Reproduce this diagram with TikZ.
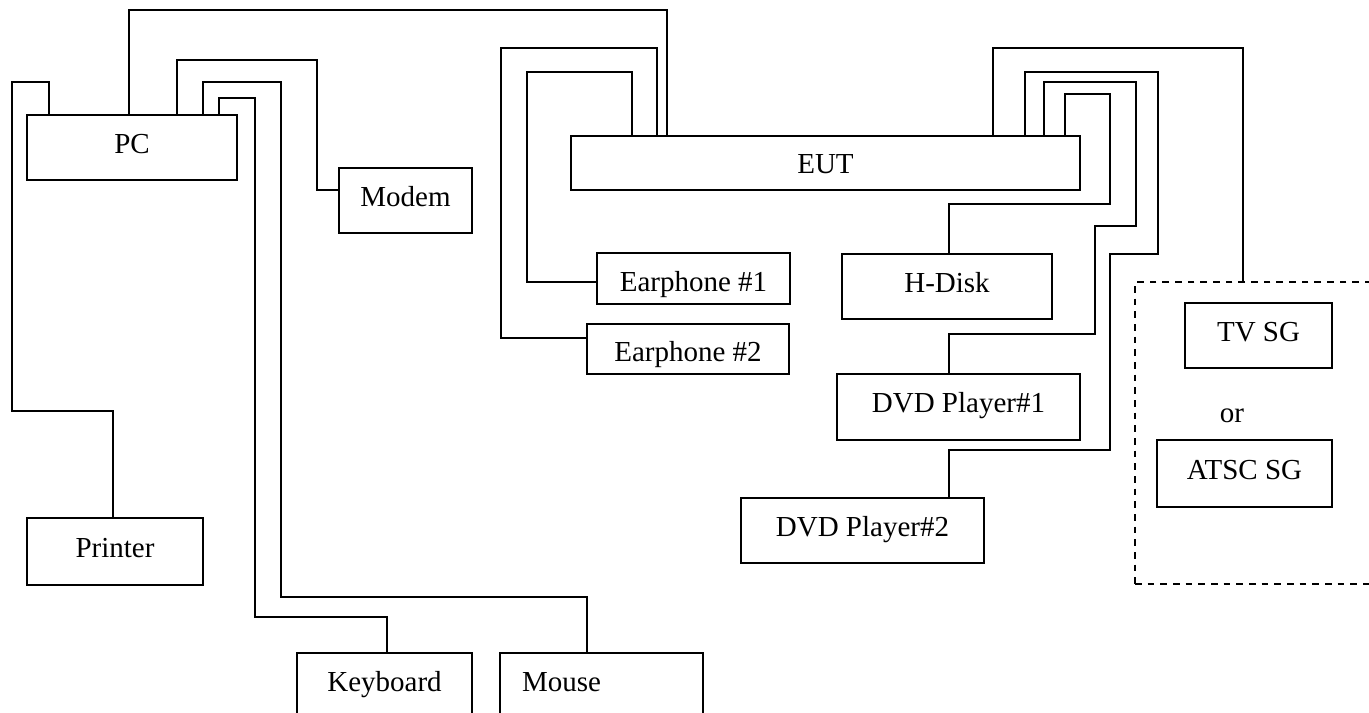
\documentclass[tikz,border=0pt]{standalone}
\usepackage{fontspec}
\setmainfont{Liberation Serif}
\usepackage{tikz}
\usetikzlibrary{positioning}

\begin{document}
\begin{tikzpicture}[x=0.75pt, y=-0.75pt,
  dev/.style 2 args={draw, line width=1.2pt, minimum width=#1*0.75pt,
               minimum height=#2*0.75pt, inner sep=0pt,
               font=\fontsize{21.75}{26}\selectfont, text height=15.2pt, text depth=6.5pt},
  lowtxt/.style={text height=#1, text depth=0pt},
  wire/.style={line width=1.2pt},
  grp/.style={draw, line width=1.2pt, dash pattern=on 5pt off 4.5pt,
              minimum width=#1*0.75pt, minimum height=302*0.75pt}]
  \useasboundingbox (0,0) rectangle (1369,713);
  \clip (0,0) rectangle (1369,713);
  % PC side
  \node[dev={210}{65}] (pc)    at (132,147.5)   {PC};
  \node[dev={133}{65}] (modem) at (405.5,200.5) {Modem};
  \node[dev={176}{67}] (prn)   at (115,551.5)   {Printer};
  \node[dev={175}{65}] (kbd)   at (384.5,685.5) {Keyboard};
  \node[dev={203}{65}, text width=159*0.75pt, align=left, inner xsep=22*0.75pt]
       (mouse) at (601.5,685.5) {Mouse};
  % EUT side
  \node[dev={509}{54}, lowtxt=15pt] (eut) at (825.5,163) {EUT};
  \node[dev={193}{51}, lowtxt=20.2pt] (ep1) at (693.5,278.5) {Earphone \#1};
  \node[dev={202}{50}, lowtxt=18pt] (ep2) at (688,349)     {Earphone \#2};
  \node[dev={210}{65}] (hdisk) at (947,286.5)   {H-Disk};
  \node[dev={243}{66}] (dvd1)  at (958.5,407)   {DVD Player\#1};
  \node[dev={243}{65}] (dvd2)  at (862.5,530.5) {DVD Player\#2};
  \node[grp=265] (sg) at (1267.5,433) {};
  \node[dev={147}{65}] (tvsg)  at (1258.5,335.5) {TV SG};
  \node[dev={175}{67}] (atsc)  at (1244.5,473.5) {ATSC SG};
  \node[font=\fontsize{21.75}{26}\selectfont, inner sep=0pt,
        text height=15.2pt, text depth=6.5pt] (or) at (1232,417) {or};
  % cables from the PC
  \draw[wire] (pc.north -| 49,0) |- (12,82) |- (113,411) -- (prn.north -| 113,0);
  \draw[wire] (pc.north -| 129,0) |- (667,10) -- (eut.north -| 667,0);
  \draw[wire] (pc.north -| 177,0) |- (317,60) |- (modem.west |- 0,190);
  \draw[wire] (pc.north -| 203,0) |- (281,82) |- (587,597) -- (mouse.north -| 587,0);
  \draw[wire] (pc.north -| 219,0) |- (255,98) |- (387,617) -- (kbd.north -| 387,0);
  % cables from the EUT
  \draw[wire] (eut.north -| 632,0) |- (527,72) |- (ep1.west |- 0,282);
  \draw[wire] (eut.north -| 657,0) |- (501,48) |- (ep2.west |- 0,338);
  \draw[wire] (eut.north -| 993,0) |- (1243,48) -- (sg.north -| 1243,0);
  \draw[wire] (eut.north -| 1025,0) |- (1158,72) |- (1110,254) |- (949,450)
              -- (dvd2.north -| 949,0);
  \draw[wire] (eut.north -| 1044,0) |- (1136,82) |- (1095,226) |- (949,334)
              -- (dvd1.north -| 949,0);
  \draw[wire] (eut.north -| 1065,0) |- (1110,94) |- (949,204) -- (hdisk.north -| 949,0);
\end{tikzpicture}
\end{document}
